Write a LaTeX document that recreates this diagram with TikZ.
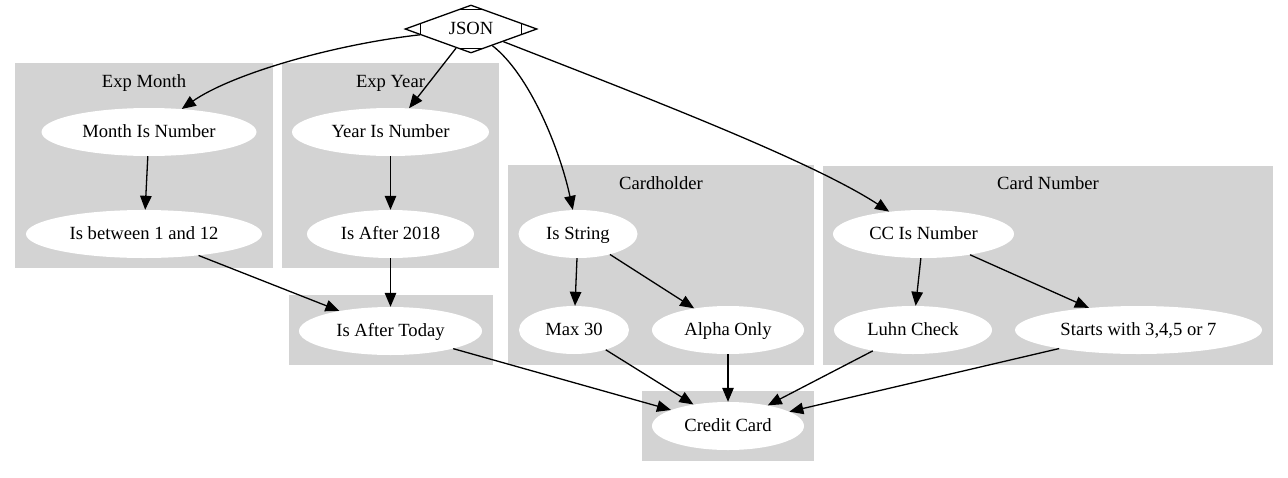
\documentclass[tikz,border=0pt]{standalone}
\usepackage{fontspec}
\setmainfont{Liberation Serif}
\usetikzlibrary{shapes.geometric,arrows.meta,calc}
\definecolor{clustergray}{HTML}{D3D3D3}
\begin{document}
\begin{tikzpicture}[x=1pt,y=-1pt,
  cluster/.style={fill=clustergray},
  ctitle/.style={anchor=base,inner sep=0pt,font=\fontsize{18.6}{22}\selectfont},
  oval/.style={ellipse,fill=white,inner sep=0pt,minimum height=48pt,
    font=\fontsize{18.6}{22}\selectfont,text height=12.5pt,text depth=2.5pt},
  conn/.style={-{Triangle[length=14pt,width=11.5pt]},line width=1.3pt},
  dmark/.style={line width=1.3pt}
]
\useasboundingbox (0,0) rectangle (1288,477);
% clusters
\path[cluster] (15,63) rectangle (273,268);
\path[cluster] (282,63) rectangle (499,268);
\path[cluster] (289,295) rectangle (493,365);
\path[cluster] (508,165) rectangle (814,365);
\path[cluster] (823,166) rectangle (1273,365);
\path[cluster] (642,391) rectangle (814,461);
\node[ctitle] (tmonth) at (144,87) {Exp Month};
\node[ctitle] (tyear) at (390.5,87) {Exp Year};
\node[ctitle] (tholder) at (661,189) {Cardholder};
\node[ctitle] (tnumber) at (1048,189) {Card Number};
% nodes
\node[diamond,draw,line width=1.3pt,fill=white,aspect=2.75,minimum width=132pt,
  minimum height=48pt,inner sep=0pt,font=\fontsize{18.6}{22}\selectfont,
  text height=12.5pt,text depth=2.5pt] (json) at (471,29) {JSON};
\draw[dmark] ($(json.north)!0.2!(json.west)$) -- ($(json.north)!0.2!(json.east)$);
\draw[dmark] ($(json.south)!0.2!(json.west)$) -- ($(json.south)!0.2!(json.east)$);
\draw[dmark] ($(json.west)!0.24!(json.north)$) -- ($(json.west)!0.24!(json.south)$);
\draw[dmark] ($(json.east)!0.24!(json.north)$) -- ($(json.east)!0.24!(json.south)$);
\node[oval,minimum width=215pt] (mon) at (149,132) {Month Is Number};
\node[oval,minimum width=236pt] (btw) at (144,234) {Is between 1 and 12};
\node[oval,minimum width=197pt] (year) at (390.5,132) {Year Is Number};
\node[oval,minimum width=167pt] (a2018) at (390.5,234) {Is After 2018};
\node[oval,minimum width=183pt] (today) at (390.5,331) {Is After Today};
\node[oval,minimum width=119pt] (isstr) at (578,234) {Is String};
\node[oval,minimum width=110pt] (max) at (574,330) {Max 30};
\node[oval,minimum width=152pt] (alpha) at (728,330) {Alpha Only};
\node[oval,minimum width=152pt] (cc) at (728,426) {Credit Card};
\node[oval,minimum width=181pt] (ccnum) at (923.5,234) {CC Is Number};
\node[oval,minimum width=158pt] (luhn) at (913,330) {Luhn Check};
\node[oval,minimum width=247pt] (starts) at (1138.5,330) {Starts with 3,4,5 or 7};
% edges
\draw[conn] (json) .. controls (330,45) and (230,75) .. (mon);
\draw[conn] (json) -- (year);
\draw[conn] (json) .. controls (530,75) and (560,150) .. (isstr);
\draw[conn] (json) .. controls (640,95) and (810,160) .. (ccnum);
\draw[conn] (mon) -- (btw);
\draw[conn] (year) -- (a2018);
\draw[conn] (btw) -- (today);
\draw[conn] (a2018) -- (today);
\draw[conn] (today) -- (cc);
\draw[conn] (isstr) -- (max);
\draw[conn] (isstr) -- (alpha);
\draw[conn] (max) -- (cc);
\draw[conn] (alpha) -- (cc);
\draw[conn] (ccnum) -- (luhn);
\draw[conn] (ccnum) -- (starts);
\draw[conn] (luhn) -- (cc);
\draw[conn] (starts) -- (cc);
\end{tikzpicture}
\end{document}
